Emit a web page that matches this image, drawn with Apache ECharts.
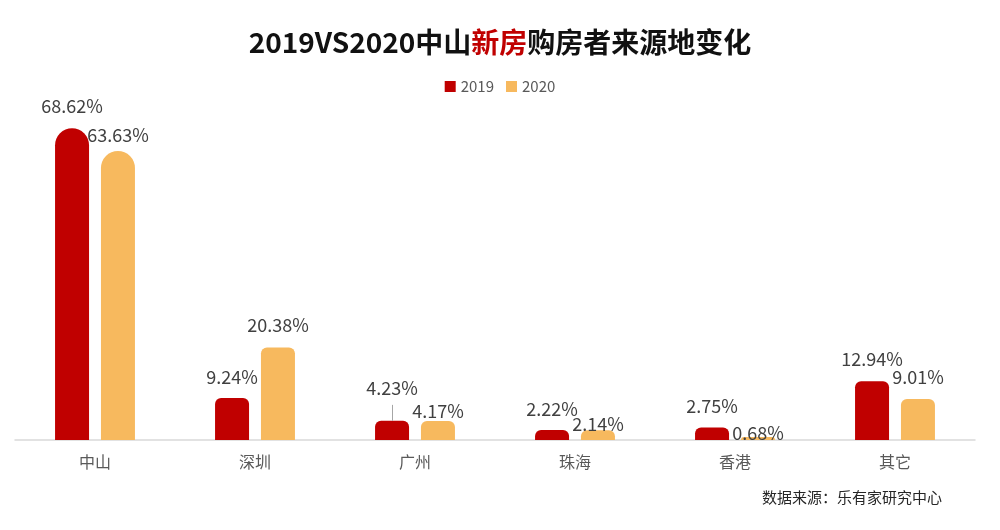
<!DOCTYPE html>
<html>
<head>
<meta charset="utf-8">
<script src="https://cdn.jsdelivr.net/npm/echarts@6/dist/echarts.min.js"></script>
<style>
  html, body { margin: 0; padding: 0; background: #fff; }
  #main { width: 1000px; height: 530px; }
</style>
</head>
<body>
<div id="main"></div>
<script>
// 数据
const cities = ['中山', '深圳', '广州', '珠海', '香港', '其它']
const share2019 = [68.62, 9.24, 4.23, 2.22, 2.75, 12.94]
const share2020 = [63.63, 20.38, 4.17, 2.14, 0.68, 9.01]

const RED = '#C00000'
const GOLD = '#F7B95E'
const FONT = '"Noto Sans CJK SC", "Noto Sans", sans-serif'

// 标签离柱顶的距离（照着原图微调）
const dist2019 = [13, 12, 24, 12, 12, 13]
const dist2020 = [7, 13, 1, -3, -5, 13]

function buildData (values, dists) {
  return values.map((v, i) => ({
    value: v,
    itemStyle: { borderRadius: i === 0 ? [17, 17, 0, 0] : [6, 6, 0, 0] },
    label: { distance: dists[i] }
  }))
}

const chart = echarts.init(document.getElementById('main'))
chart.setOption({
  backgroundColor: '#ffffff',
  animation: false,
  title: {
    text: '{a|2019VS2020中山}{b|新房}{a|购房者来源地变化}',
    left: 'center',
    top: 23,
    textStyle: {
      rich: {
        a: { fontSize: 28, fontWeight: 'bold', color: '#111', fontFamily: FONT },
        b: { fontSize: 28, fontWeight: 'bold', color: RED, fontFamily: FONT }
      }
    }
  },
  legend: {
    top: 74,
    left: 'center',
    itemWidth: 11,
    itemHeight: 11,
    itemGap: 12,
    icon: 'rect',
    textStyle: { color: '#595959', fontSize: 15, fontFamily: FONT },
    data: ['2019', '2020']
  },
  grid: { left: 15, right: 25, top: 122, bottom: 90 },
  xAxis: {
    type: 'category',
    data: cities,
    axisLine: { lineStyle: { color: '#d9d9d9', width: 1.5 } },
    axisTick: { show: false },
    axisLabel: { color: '#595959', fontSize: 16, margin: 14, fontFamily: FONT }
  },
  yAxis: {
    type: 'value',
    min: 0,
    max: 70,
    show: false,
    splitLine: { show: false }
  },
  series: [
    {
      name: '2019',
      type: 'bar',
      barWidth: 34,
      barGap: '35%',
      itemStyle: { color: RED },
      data: buildData(share2019, dist2019),
      label: {
        show: true,
        position: 'top',
        color: '#404040',
        fontSize: 18,
        fontFamily: FONT,
        formatter: p => p.value.toFixed(2) + '%'
      },
      markLine: {
        silent: true,
        symbol: 'none',
        label: { show: false },
        lineStyle: { color: '#a6a6a6', type: 'solid', width: 1 },
        data: [[
          { coord: ['广州', share2019[2]], x: 392 },
          { coord: ['广州', share2019[2] + 3.5], x: 392 }
        ]]
      }
    },
    {
      name: '2020',
      type: 'bar',
      barWidth: 34,
      itemStyle: { color: GOLD },
      data: buildData(share2020, dist2020),
      label: {
        show: true,
        position: 'top',
        color: '#404040',
        fontSize: 18,
        fontFamily: FONT,
        formatter: p => p.value.toFixed(2) + '%'
      }
    }
  ],
  graphic: [
    {
      type: 'text',
      right: 58,
      top: 490,
      style: {
        text: '数据来源：乐有家研究中心',
        fill: '#262626',
        font: '15px ' + FONT
      }
    }
  ]
})
</script>
</body>
</html>
